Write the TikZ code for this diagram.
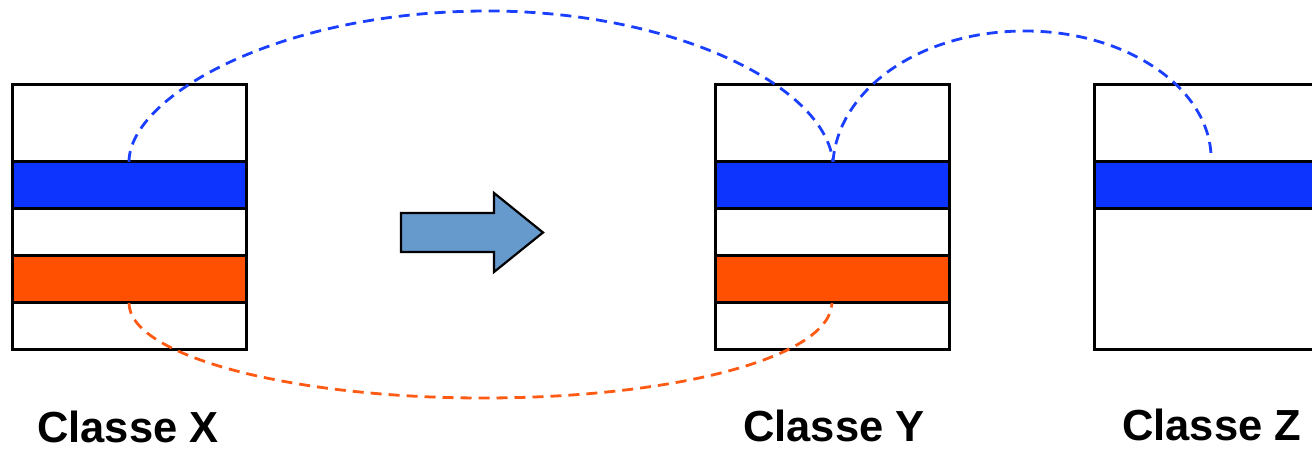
\documentclass[tikz,border=0pt]{standalone}
\usepackage{fontspec}
\setmainfont{Liberation Sans}
\definecolor{bandblue}{HTML}{0D33FF}
\definecolor{bandorange}{HTML}{FF4F00}
\definecolor{lineblue}{HTML}{1A3FFF}
\definecolor{lineorange}{HTML}{FF5A14}
\definecolor{arrowblue}{HTML}{6699CC}
\tikzset{
  classbox/.style={draw=black, line width=3pt, fill=white, rectangle, inner sep=0pt, minimum width=234pt, minimum height=265pt},
  bluebandbox/.style={draw=black, line width=3pt, fill=bandblue, rectangle, inner sep=0pt, minimum height=47pt},
  orangebandbox/.style={draw=black, line width=3pt, fill=bandorange, rectangle, inner sep=0pt, minimum height=47pt},
  bluelink/.style={draw=lineblue, line width=2.8pt, dash pattern=on 11pt off 7pt},
  orangelink/.style={draw=lineorange, line width=2.8pt, dash pattern=on 11pt off 7pt},
  classlabel/.style={anchor=base west, inner sep=0pt, font=\bfseries\fontsize{43.5}{43.5}\selectfont},
  bigarrow/.style={draw=black, line width=2.2pt, fill=arrowblue, line join=miter}
}
\begin{document}
\begin{tikzpicture}[x=1pt, y=1pt]
\useasboundingbox (0,0) rectangle (1312,450);
\clip (0,0) rectangle (1312,450);
% class X
\node[classbox] (X) at (129,232.5) {};
\node[bluebandbox, minimum width=234pt] (Xb) at (129,264.5) {};
\node[orangebandbox, minimum width=234pt] (Xo) at (129,170.5) {};
% class Y
\node[classbox] (Y) at (832,232.5) {};
\node[bluebandbox, minimum width=234pt] (Yb) at (832,264.5) {};
\node[orangebandbox, minimum width=234pt] (Yo) at (832,170.5) {};
% class Z (cut off at right)
\node[classbox, minimum width=260pt] (Z) at (1224,232.5) {};
\node[bluebandbox, minimum width=260pt] (Zb) at (1224,264.5) {};
% arrow
\draw[bigarrow] (401,237) -- (494,237) -- (494,257) -- (543,217.5) -- (494,178) -- (494,198) -- (401,198) -- cycle;
% link points
\coordinate (xbtop) at (129,288);
\coordinate (ybtop) at (833,288);
\coordinate (zend) at (1211,296);
\coordinate (xobot) at (129,147);
\coordinate (yobot) at (832,147);
\coordinate (peakA) at (488,439);
\coordinate (peakB) at (1025,419);
\coordinate (lowC) at (483,52);
% links
\draw[bluelink] (xbtop) .. controls +(0,65) and +(-210,0) .. (peakA)
  .. controls +(182,0) and +(-8,78) .. (ybtop);
\draw[bluelink] (ybtop) .. controls +(5,72) and +(-106,0) .. (peakB)
  .. controls +(100,0) and +(-4,68) .. (zend);
\draw[orangelink] (xobot) .. controls +(0,-52) and +(-195,0) .. (lowC)
  .. controls +(190,0) and +(-2,-55) .. (yobot);
% labels
\node[classlabel] (lx) at (37,8) {Classe X};
\node[classlabel] (ly) at (743,9) {Classe Y};
\node[classlabel] (lz) at (1122,10) {Classe Z};
\end{tikzpicture}
\end{document}
